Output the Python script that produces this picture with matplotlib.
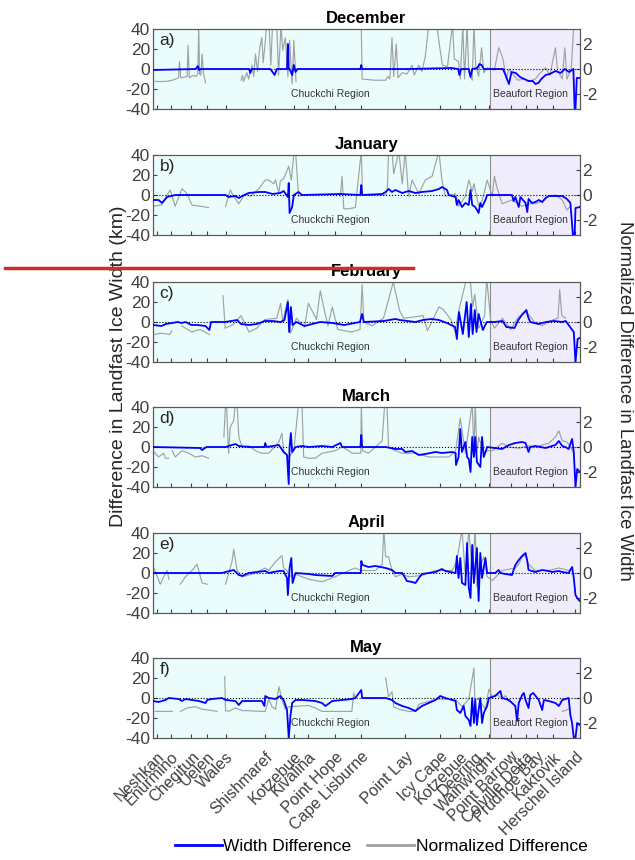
import numpy as np
import matplotlib
matplotlib.use('Agg')
import matplotlib.pyplot as plt
from matplotlib.lines import Line2D

plt.rcParams['font.family'] = ['Liberation Sans', 'DejaVu Sans']
plt.rcParams['axes.unicode_minus'] = False

nan = np.nan

months = ['December', 'January', 'February', 'March', 'April', 'May']
panel_tags = ['a)', 'b)', 'c)', 'd)', 'e)', 'f)']

site_names = ['Neshkan', 'Enurmino', 'Chegitun', 'Uelen', 'Wales', 'Shishmaref',
              'Kotzebue', 'Kivalina', 'Point Hope', 'Cape Lisburne', 'Point Lay',
              'Icy Cape', 'Kotzebue', 'Deering', 'Wainwright', 'Point Barrow',
              'Colville Delta', 'Prudhoe Bay', 'Kaktovik', 'Herschel Island']
site_pos = [9, 41, 90, 127, 170, 263, 330, 362, 427, 488, 591, 673, 720, 755,
            787, 838, 873, 900, 937, 990]
beaufort_start = 790

# width difference (km) and normalized difference, [position along coast, value]
width_dec = [(0,-1),(100,0),(105,3),(108,-1),(112,0),(225,0),(228,-4),(231,0),(275,0),(280,-3),
             (285,-6),(290,0),(314,0),(316,25),(318,0),(320,0),(326,-6),(330,4),(334,-3),(338,0),
             (486,0),(488,4),(490,0),(600,0),(700,1),(715,0),(718,-6),(722,0),(740,0),(744,-8),
             (748,0),(760,1),(765,5),(770,4),(775,0),(783,0),(820,0),(826,-6),(834,-15),(840,-3),
             (850,-4),(860,-8),(870,-10),(880,-12),(890,-12),(896,-15),(903,-14),(910,-10),(920,-6),
             (930,-5),(943,-2),(955,-4),(965,0),(975,-3),(985,0),(988,-40),(990,-40),(993,-9),(1000,-9)]
norm_dec = [(5,-1.0),(30,-1.0),(45,-0.9),(60,-0.7),(62,0.6),(65,-0.7),(80,-0.6),(82,1.9),(85,-0.7),
            (95,-0.5),(100,-0.6),(105,-0.4),(107,3.5),(109,-0.4),(112,-0.5),(115,1.2),(118,-0.3),
            (123,-1.1),(124,nan),(205,nan),(206,-0.9),(210,-0.5),(212,-1.0),(220,-0.3),(224,-0.8),
            (232,0.3),(236,-0.6),(240,1.2),(245,-0.2),(250,1.7),(255,2.5),(258,0.5),(262,1.8),
            (266,3.5),(272,3.5),(276,0.3),(280,3.5),(290,3.5),(294,-0.5),(300,3.5),(304,1.5),
            (310,2.5),(316,-0.6),(320,2.3),(326,-1.2),(330,2.3),(335,-1.0),(337,nan),(487,nan),
            (488,3.5),(490,-0.8),(520,-0.9),(545,-0.9),(550,-0.6),(555,-0.8),(560,2.5),(564,-0.6),
            (570,2.0),(574,-0.7),(584,-0.3),(595,-0.4),(607,0.3),(612,-0.5),(623,0.3),(630,-0.2),
            (638,1.0),(645,3.2),(654,3.5),(665,3.5),(672,1.7),(678,0.3),(690,0.2),(698,2.5),
            (702,3.5),(706,0.8),(716,0.6),(720,-0.8),(726,3.5),(730,-0.8),(736,3.5),(740,-0.3),
            (748,-0.9),(752,3.5),(756,0.3),(763,-0.6),(770,1.7),(775,-0.3),(783,0.1),(800,-0.1),
            (810,1.7),(815,1.3),(820,0.8),(828,-0.8),(834,0.0),(845,-0.5),(855,-0.9),(870,-0.8),
            (880,-1.0),(896,-0.8),(905,-0.4),(920,0.1),(930,-0.5),(943,1.7),(948,-0.1),(959,-0.8),
            (965,1.7),(970,-0.8),(980,0.0),(986,3.5),(990,nan)]

width_jan = [(0,-5),(13,-5),(21,-8),(33,-2),(52,0),(170,0),(177,-2),(193,-1),(201,-3),(209,-1),
             (224,2),(248,3),(263,3),(280,1),(298,2),(306,4),(316,-2),(318,12),(320,-18),(326,-12),
             (330,0),(341,3),(349,0),(439,1),(486,0),(488,10),(490,0),(537,1),(545,3),(552,6),
             (560,3),(568,5),(584,2),(599,4),(615,2),(630,3),(654,4),(670,6),(677,8),(689,5),
             (693,0),(709,-2),(712,-10),(716,-5),(724,-12),(732,-8),(740,-10),(744,5),(748,-10),
             (755,-12),(763,-18),(767,-8),(771,-12),(779,-5),(783,0),(841,0),(845,-6),(849,-2),
             (857,-12),(861,-2),(865,-4),(873,-8),(877,-17),(880,-4),(888,-8),(896,-7),(904,-5),
             (912,-7),(920,-3),(927,-1),(959,-1),(970,-4),(978,-8),(984,-40),(988,-40),(990,-13),
             (1000,-12)]
norm_jan = [(0,-0.9),(20,-0.8),(40,0.4),(52,-0.9),(68,0.5),(80,0.1),(91,-0.8),(110,-0.9),(130,-1.0),
            (131,nan),(169,nan),(170,-0.9),(181,0.4),(189,-0.1),(201,-0.7),(216,0.1),(228,-0.1),
            (248,0.5),(263,1.2),(271,1.2),(283,0.9),(287,1.2),(295,0.1),(298,1.1),(306,1.3),
            (318,2.3),(324,1.2),(330,3.3),(334,3.5),(341,-0.1),(349,0),(350,nan),(438,nan),
            (439,-0.1),(443,1.5),(447,-1.1),(459,-1.1),(474,-1.0),(488,3.5),(491,0),(545,0),
            (549,0.4),(552,3.5),(560,3.5),(564,1.7),(576,3.5),(584,0.9),(591,3.5),(599,-0.1),
            (607,1.2),(623,0.1),(638,1.2),(654,1.5),(670,3.5),(677,1.2),(685,-0.1),(709,0.1),
            (716,-0.9),(732,-0.1),(740,1.2),(748,0.3),(752,0.9),(763,-0.9),(771,-0.5),(783,1.2),
            (795,-0.1),(800,1.5),(806,0.6),(818,-0.7),(841,-0.4),(865,-0.9),(880,-0.7),(896,-0.7),
            (912,-0.5),(927,-0.1),(943,0),(959,-0.4),(970,-1.2),(978,-0.9),(982,nan)]

width_feb = [(0,-3),(20,-4),(30,-2),(58,0),(67,-1),(76,0),(90,-3),(104,-3),(123,-4),(132,-8),
             (136,0),(169,0),(197,2),(206,-2),(225,-3),(243,-2),(262,1),(280,1),(299,0),(308,2),
             (316,20),(319,-10),(323,15),(327,-3),(336,0),(355,-4),(373,-2),(392,0),(420,-1),
             (448,-3),(485,0),(490,8),(494,0),(540,1),(568,3),(578,2),(615,0),(633,2),(652,3),
             (670,2),(689,-1),(708,-5),(712,-17),(717,10),(726,-12),(735,20),(740,-15),(745,18),
             (749,-12),(754,12),(758,-10),(763,8),(773,-8),(782,0),(800,0),(819,1),(828,-5),
             (847,-6),(856,2),(866,8),(875,12),(879,5),(884,0),(903,-2),(921,0),(940,1),(958,0),
             (967,1),(986,-10),(990,-40),(995,-17),(1000,-16)]
norm_feb = [(0,-1.0),(20,-0.9),(39,-1.0),(44,-0.7),(50,nan),(66,nan),(67,-0.3),(90,-0.8),(110,-0.6),
            (132,-1.0),(135,nan),(163,nan),(164,2.1),(169,-0.5),(188,-0.2),(206,0.5),(225,-0.8),
            (243,-0.5),(262,0.2),(290,0.3),(299,1.5),(304,0),(316,1.8),(322,-0.9),(336,0.3),
            (355,-0.4),(364,1.5),(383,0.2),(392,2.5),(401,1.0),(410,-0.3),(420,1.2),(433,-0.6),
            (466,-0.8),(485,-0.6),(490,3.0),(494,0),(513,-0.3),(540,0.3),(563,3.2),(572,1.8),
            (578,0.9),(587,0.3),(633,0.5),(643,-0.7),(670,1.2),(680,1.0),(698,0.2),(708,-0.8),
            (717,1.0),(735,3.5),(743,3.5),(749,1.2),(754,2.2),(763,-0.5),(777,0.5),(782,3.5),
            (791,0.2),(800,-0.5),(819,0.3),(838,-0.6),(856,0.4),(875,0.8),(894,0),(912,-0.3),
            (931,0.1),(949,0.3),(953,2.6),(958,0.5),(967,0.3),(975,nan)]

width_mar = [(0,0),(110,-1),(115,-3),(125,0),(170,0),(177,1),(185,2),(193,3),(201,1),(224,0),
             (261,0),(263,4),(266,0),(295,2),(306,-5),(314,-8),(318,-37),(320,0),(323,14),(326,-5),
             (334,0),(349,1),(365,0),(396,1),(420,0),(439,4),(443,0),(486,0),(488,12),(490,0),
             (545,0),(568,-2),(584,-2),(591,-5),(607,-4),(623,-8),(638,-7),(662,-5),(677,-6),
             (701,-5),(709,-6),(710,-18),(716,-10),(720,18),(724,-5),(732,5),(736,-10),(740,-12),
             (744,-25),(748,10),(752,-10),(755,10),(759,-15),(767,-20),(771,10),(775,-10),(779,-5),
             (783,0),(818,-2),(834,2),(849,4),(865,5),(873,4),(880,-5),(884,0),(896,1),(920,-1),
             (935,1),(943,2),(951,6),(959,1),(966,0),(974,-2),(982,8),(986,-5),(990,-40),(994,-22),
             (1000,-25)]
norm_mar = [(0,-0.3),(5,-0.5),(13,-0.8),(25,-0.5),(29,-0.9),(37,-0.9),(38,nan),(44,nan),(45,-0.3),
            (52,-0.8),(68,-0.3),(84,-0.5),(99,-0.8),(115,-0.7),(130,-0.9),(131,nan),(165,nan),
            (166,0.8),(170,3.5),(172,3.5),(177,-0.5),(181,1.6),(189,2.1),(193,3.5),(197,3.5),
            (201,0.8),(209,0),(224,0.1),(240,-0.3),(255,-0.5),(271,-0.5),(295,0.4),(302,1.1),
            (306,-0.3),(318,-0.8),(330,-0.3),(341,3.5),(349,3.5),(353,-0.8),(365,-0.9),(380,-0.9),
            (396,-0.5),(427,-0.3),(443,0),(459,-0.3),(466,-0.5),(487,-0.5),(488,3.5),(491,-0.3),
            (505,-0.5),(537,0.5),(543,3.5),(548,3.5),(552,0),(568,-0.3),(584,-0.5),(615,-0.5),
            (646,-0.8),(677,-0.8),(693,-0.8),(709,-0.3),(720,2.3),(732,-0.5),(748,3.5),(752,-0.5),
            (755,3.5),(759,-0.5),(763,0.8),(775,-0.5),(783,-0.3),(795,-0.3),(818,0.3),(834,0),
            (857,-0.1),(880,0.1),(896,0),(927,0.3),(943,0.8),(951,1.3),(959,0.5),(970,0.4),
            (978,0),(986,-0.5),(990,nan)]

width_apr = [(0,0),(162,0),(170,1),(189,3),(201,-2),(209,-3),(224,0),(263,2),(271,0),(295,2),
             (306,2),(314,-5),(316,-22),(320,5),(324,15),(327,-10),(334,0),(365,-1),(380,-2),
             (420,-3),(427,0),(487,0),(488,12),(491,8),(505,6),(521,7),(545,5),(560,3),(568,0),
             (584,0),(591,-5),(595,-8),(607,-9),(615,-10),(623,-5),(630,-1),(646,0),(662,1),
             (677,4),(685,2),(709,0),(712,17),(716,-5),(720,15),(724,-10),(732,-12),(736,30),
             (740,-15),(744,-25),(748,28),(752,-10),(759,25),(763,-28),(767,20),(771,-5),(779,15),
             (783,0),(802,0),(810,3),(814,0),(826,-1),(841,-2),(849,8),(857,13),(865,17),(873,20),
             (877,12),(880,3),(896,1),(912,3),(927,2),(935,1),(951,2),(959,1),(974,0),(982,6),
             (986,-5),(990,-22),(994,-25),(1000,-28)]
norm_apr = [(2,0.4),(9,-0.2),(17,-0.9),(25,-0.3),(33,0.2),(37,-0.5),(38,nan),(63,nan),(64,-0.9),
            (76,-0.3),(91,0.2),(103,0.7),(115,-0.8),(127,-0.9),(130,nan),(168,nan),(170,-0.9),
            (185,0.9),(189,1.9),(197,0.2),(209,-0.3),(232,-0.1),(263,0.4),(271,0.2),(287,0.9),
            (302,1.4),(306,0.4),(314,0.2),(318,-0.3),(334,-0.1),(349,-0.3),(365,-0.5),(396,-0.7),
            (427,-0.3),(459,0.2),(474,0.4),(488,0.2),(521,0.2),(537,0.7),(541,3.5),(545,1.3),
            (552,1.3),(560,0.2),(568,-0.3),(584,-0.1),(599,-0.3),(630,-0.2),(662,0.2),(685,0.2),
            (701,0.2),(712,1.0),(724,3.5),(732,-0.3),(740,3.5),(748,0.2),(755,3.5),(759,-1.1),
            (763,0.2),(775,1.3),(783,-0.3),(795,-0.6),(810,-0.1),(818,0.2),(849,0.4),(857,0.7),
            (865,1.3),(873,1.4),(880,0.7),(896,0.2),(927,0.2),(951,0.4),(974,0.2),(982,0.4),
            (990,nan)]

width_may = [(0,-3),(13,-4),(29,-2),(37,0),(60,-1),(68,-3),(76,-1),(91,-2),(107,-3),(123,-5),
             (127,-2),(138,-1),(162,0),(170,-2),(193,-3),(201,-7),(209,-3),(224,-3),(255,-3),
             (261,-8),(263,2),(271,0),(287,-1),(298,2),(306,-2),(314,-12),(318,-40),(322,-18),
             (326,-5),(334,-2),(349,-2),(380,-3),(396,-5),(404,-8),(420,-3),(443,-2),(466,-1),
             (474,0),(488,8),(490,0),(545,0),(560,-2),(568,-5),(584,-8),(599,-10),(615,-13),
             (630,-8),(646,-5),(662,-2),(673,2),(685,0),(701,-2),(709,-3),(712,-12),(720,-15),
             (728,-8),(732,-18),(740,-22),(744,-28),(748,0),(752,-25),(755,-2),(759,-27),(763,-12),
             (767,0),(771,-25),(775,-15),(783,-8),(787,0),(802,2),(814,7),(818,0),(834,-2),(849,-8),
             (853,-23),(857,-5),(865,3),(869,5),(873,-2),(880,-10),(884,3),(891,5),(904,-2),
             (912,-12),(916,-2),(927,-3),(943,-5),(951,-8),(959,-2),(974,0),(978,-17),(982,-25),
             (986,-40),(990,-40),(994,-25),(1000,-27)]
norm_may = [(5,-1.07),(45,-1.07),(46,nan),(63,nan),(64,-1.07),(80,-0.8),(99,-0.7),(115,-0.9),
            (138,-1.0),(150,-1.07),(151,nan),(167,nan),(168,1.7),(170,-1.0),(177,-1.07),(193,-0.8),
            (209,-1.0),(255,-1.07),(263,-1.07),(271,-0.1),(279,-0.7),(287,-0.9),(295,0.9),
            (302,-0.1),(310,-0.9),(318,-0.7),(365,-0.6),(380,-0.8),(396,-1.07),(427,-1.07),
            (466,-1.07),(470,0.4),(474,0),(476,nan),(544,nan),(545,1.6),(552,0.1),(560,0.5),
            (564,-0.7),(576,-0.9),(599,-1.07),(615,-1.07),(623,-0.5),(662,-0.1),(701,-0.1),
            (709,-0.1),(716,-0.4),(724,-0.7),(740,-0.1),(752,2.4),(754,-0.1),(763,-0.1),(779,-0.9),
            (787,0.7),(795,0.1),(806,0.3),(818,-0.1),(826,0.2),(834,-0.3),(840,nan),(955,nan),
            (959,-1.07),(974,-0.9),(982,nan)]

width_all = [width_dec, width_jan, width_feb, width_mar, width_apr, width_may]
norm_all = [norm_dec, norm_jan, norm_feb, norm_mar, norm_apr, norm_may]

chukchi_bg = '#ebfcfc'
beaufort_bg = '#efedfc'
gray_line = '#9fa2a2'
axis_col = '#404040'

fig = plt.figure(figsize=(6.35, 8.6), dpi=100)
panel_top = [29, 155, 282, 407, 533, 658]   # px from top

for i in range(6):
    b = 1 - (panel_top[i] + 80) / 860.0
    ax = fig.add_axes([0.241, b, 0.672, 80 / 860.0])
    ax2 = ax.twinx()
    ax.set_zorder(ax2.get_zorder() + 1)
    ax.patch.set_visible(False)

    ax2.axvspan(0, beaufort_start, color=chukchi_bg, lw=0, zorder=0)
    ax2.axvspan(beaufort_start, 1000, color=beaufort_bg, lw=0, zorder=0)
    ax2.axvline(beaufort_start, color='#8c8c8c', lw=0.8, zorder=1)

    n = np.array(norm_all[i], dtype=float)
    ax2.plot(n[:, 0], n[:, 1], color=gray_line, lw=0.85, zorder=2)
    ax2.set_ylim(-3.2, 3.2)
    ax2.set_yticks([-2, 0, 2])

    w = np.array(width_all[i], dtype=float)
    ax.axhline(0, color='k', ls=':', lw=0.8, zorder=2)
    ax.plot(w[:, 0], w[:, 1], color='#0000ff', lw=1.3, zorder=3)
    ax.set_ylim(-40, 40)
    ax.set_yticks([-40, -20, 0, 20, 40])
    ax.set_xlim(0, 1000)
    ax.set_xticks(site_pos)

    for a in (ax, ax2):
        a.tick_params(direction='in', length=3, colors=axis_col, labelsize=12.5, pad=2)
        for s in a.spines.values():
            s.set_color('#595959')
            s.set_linewidth(0.8)

    if i < 5:
        ax.set_xticklabels([])
    else:
        ax.tick_params(axis='x', pad=8)
        ax.set_xticklabels(site_names, rotation=45, ha='right', rotation_mode='anchor',
                           fontsize=11.5)

    ax.set_title(months[i], fontsize=12, fontweight='bold', pad=4)
    ax.text(0.015, 0.8, panel_tags[i], transform=ax.transAxes, fontsize=12.5, color='#262626')
    yt = ax.get_yaxis_transform()
    ax.text(0.415, -25, 'Chuckchi Region', fontsize=7.5, color='#333333',
            ha='center', va='center', transform=yt)
    ax.text(0.885, -25, 'Beaufort Region', fontsize=7.5, color='#333333',
            ha='center', va='center', transform=yt)

fig.text(0.186, 0.574, 'Difference in Landfast Ice Width (km)', rotation=90, fontsize=14,
         ha='center', va='center', color='#262626')
fig.text(0.983, 0.534, 'Normalized Difference in Landfast Ice Width', rotation=-90, fontsize=13.3,
         ha='center', va='center', color='#262626')

handles = [Line2D([], [], color='#0000ff', lw=2),
           Line2D([], [], color=gray_line, lw=2)]
fig.legend(handles, ['Width Difference', 'Normalized Difference'], loc='center',
           bbox_to_anchor=(0.6, 0.016), ncol=2, frameon=False, fontsize=12.5,
           handlelength=2.7, handletextpad=0.1, columnspacing=0.9)

# stray red stroke across the figure
fig.add_artist(Line2D([0.008, 0.65], [1 - 268 / 860.0] * 2, color='#c8302c', lw=2.5, zorder=10))

fig.savefig('out.png', dpi=100)
